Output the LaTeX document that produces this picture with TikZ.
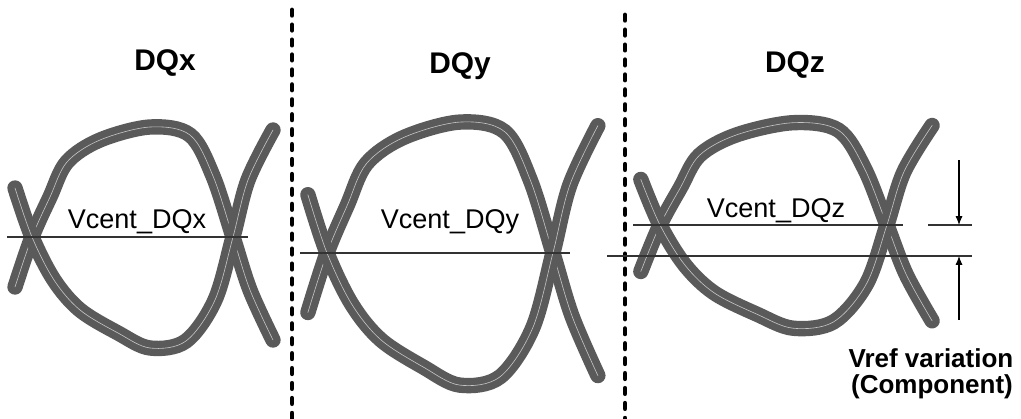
\documentclass[tikz,border=0pt]{standalone}
\usepackage{fontspec}
\setmainfont{Liberation Sans}
\usetikzlibrary{arrows.meta}
\definecolor{eyegray}{RGB}{90,90,90}
\newcommand{\eyetraces}{%
\draw[trace] plot[smooth,tension=0.55] coordinates {(-17,50) (0,0) (18,-40) (35,-75) (68,-97) (118,-110) (158,-102) (181,-61) (201,0) (218,53) (241,103)};
\draw[trace] plot[smooth,tension=0.55] coordinates {(-17,-49) (0,0) (22,43) (48,73) (86,96) (118,111) (154,104) (183,63) (201,0) (216,-57) (241,-107)};
}
\begin{document}
\begin{tikzpicture}[x=0.02cm,y=-0.02cm,
  trace/.style={eyegray,line width=4.2pt,double=eyegray!35!white,double distance=0.35pt,line cap=round},
  level/.style={black!80,line width=0.6pt},
  divider/.style={line width=2.8pt,line cap=round,dash pattern=on 3pt off 5.5pt},
  title/.style={anchor=base,font=\fontsize{17}{20}\selectfont\bfseries},
  vlabel/.style={anchor=base,font=\fontsize{15.4}{18}\selectfont},
  vref/.style={anchor=base,font=\fontsize{14.8}{18}\selectfont\bfseries}]
\useasboundingbox (0,0) rectangle (1021,419);

% eyes
\begin{scope}[shift={(32,237)}]
\eyetraces
\end{scope}
\begin{scope}[shift={(327,253)},xscale=1.124,yscale=1.19]
\eyetraces
\end{scope}
\begin{scope}[shift={(660,225)},xscale=1.129,yscale=0.93]
\eyetraces
\end{scope}

\draw[divider] (292,10) -- (292,419);
\draw[divider] (625,15) -- (625,419);

\draw[level] (7,237) -- (248,237);
\draw[level] (300,253) -- (570,253);
\draw[level] (633,225) -- (903,225);
\draw[level] (928,225) -- (972,225);
\draw[level] (607,256) -- (972,256);

\node[title] (dqx) at (165,70) {DQx};
\node[title] (dqy) at (460,73) {DQy};
\node[title] (dqz) at (795,72) {DQz};

\node[vlabel] (vcx) at (137,228) {Vcent\_DQx};
\node[vlabel] (vcy) at (450,228) {Vcent\_DQy};
\node[vlabel] (vcz) at (776,217) {Vcent\_DQz};

\node[vref] (vvar) at (931,367) {Vref variation};
\node[vref] (vcomp) at (932,393) {(Component)};

\coordinate (uptail) at (959,160);
\coordinate (uphead) at (959,225);
\coordinate (lotail) at (959,320);
\coordinate (lohead) at (959,256);
\draw[line width=0.6pt,-{Latex[length=5pt,width=4pt]}] (uptail) -- (uphead);
\draw[line width=0.6pt,-{Latex[length=5pt,width=4pt]}] (lotail) -- (lohead);
\end{tikzpicture}
\end{document}
